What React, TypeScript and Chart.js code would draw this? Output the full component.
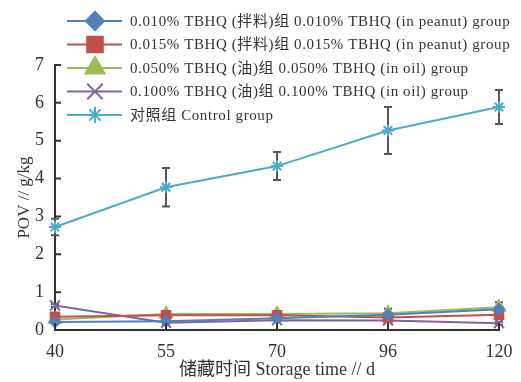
import React, { useEffect, useRef } from 'react';
import { Chart, registerables } from 'chart.js';
import { drawPoint } from 'chart.js/helpers';

Chart.register(...registerables);

const categories = ['40', '55', '70', '96', '120'];
const seriesNames = [
  '0.010% TBHQ (拌料)组 0.010% TBHQ (in peanut) group',
  '0.015% TBHQ (拌料)组 0.015% TBHQ (in peanut) group',
  '0.050% TBHQ (油)组 0.050% TBHQ (in oil) group',
  '0.100% TBHQ (油)组 0.100% TBHQ (in oil) group',
  '对照组 Control group',
];
const peanut010 = [0.21, 0.23, 0.31, 0.4, 0.55];
const peanut015 = [0.35, 0.39, 0.39, 0.33, 0.4];
const oil050 = [0.28, 0.42, 0.42, 0.44, 0.6];
const oil100 = [0.65, 0.19, 0.26, 0.25, 0.18];
const control = [2.72, 3.77, 4.33, 5.27, 5.89];

const errPeanut010 = [0.03, 0.03, 0.03, 0.05, 0.06];
const errPeanut015 = [0.04, 0.03, 0.04, 0.04, 0.06];
const errOil050 = [0.04, 0.05, 0.06, 0.12, 0.13];
const errOil100 = [0.04, 0.03, 0.03, 0.04, 0.04];
const errControl = [0.22, 0.51, 0.37, 0.62, 0.45];

const yMin = 0;
const yMax = 7;
const yStep = 1;

const colors = ['#4F81BD', '#C0504D', '#9BBB59', '#8064A2', '#4BACC6'];
const pointStyles = ['rectRot', 'rect', 'triangle', 'crossRot', 'star'];
const pointRadii = [5, 6, 7, 7, 6];
const legendRadii = [9, 11, 11, 11, 8];

const seriesValues = [peanut010, peanut015, oil050, oil100, control];
const seriesErrors = [errPeanut010, errPeanut015, errOil050, errOil100, errControl];

const serifFont = '"Liberation Serif", "DejaVu Serif", "Noto Sans CJK SC", serif';

const errorBarPlugin = {
  id: 'errorBars',
  beforeDatasetsDraw(chart: any) {
    const ctx = chart.ctx;
    const yScale = chart.scales.y;
    ctx.save();
    ctx.strokeStyle = '#555555';
    ctx.lineWidth = 2;
    seriesValues.forEach((vals, i) => {
      const meta = chart.getDatasetMeta(i);
      vals.forEach((v, j) => {
        const e = seriesErrors[i][j];
        const pt = meta.data[j];
        if (!pt) return;
        const x = pt.x;
        const yt = yScale.getPixelForValue(v + e);
        const yb = yScale.getPixelForValue(v - e);
        ctx.beginPath();
        ctx.moveTo(x, yt);
        ctx.lineTo(x, yb);
        ctx.moveTo(x - 4, yt);
        ctx.lineTo(x + 4, yt);
        ctx.moveTo(x - 4, yb);
        ctx.lineTo(x + 4, yb);
        ctx.stroke();
      });
    });
    ctx.restore();
  },
};

const innerTicksPlugin = {
  id: 'innerTicks',
  afterDraw(chart: any) {
    const ctx = chart.ctx;
    const { left, bottom } = chart.chartArea;
    const yScale = chart.scales.y;
    const xScale = chart.scales.x;
    ctx.save();
    ctx.strokeStyle = '#333333';
    ctx.lineWidth = 2;
    ctx.beginPath();
    yScale.ticks.forEach((t: any) => {
      const y = yScale.getPixelForValue(t.value);
      ctx.moveTo(left, y);
      ctx.lineTo(left + 6, y);
    });
    categories.forEach((_, i) => {
      const x = xScale.getPixelForValue(i);
      ctx.moveTo(x, bottom);
      ctx.lineTo(x, bottom - 7);
    });
    ctx.stroke();
    ctx.restore();
  },
};

const customLegendPlugin = {
  id: 'customLegend',
  afterDraw(chart: any) {
    const ctx = chart.ctx;
    ctx.save();
    const x0 = 67;
    const x1 = 122;
    const xm = 95;
    const textX = 130;
    seriesNames.forEach((name, i) => {
      const y = 21 + i * 23.5;
      ctx.strokeStyle = colors[i];
      ctx.lineWidth = 2;
      ctx.beginPath();
      ctx.moveTo(x0, y);
      ctx.lineTo(x1, y);
      ctx.stroke();
      ctx.fillStyle = colors[i];
      ctx.strokeStyle = colors[i];
      ctx.lineWidth = 2;
      drawPoint(ctx, { pointStyle: pointStyles[i], radius: legendRadii[i], rotation: 0, borderWidth: 2 } as any, xm, y);
      ctx.fillStyle = '#333333';
      ctx.font = '15px ' + serifFont;
      (ctx as any).letterSpacing = '0.6px';
      ctx.textBaseline = 'middle';
      ctx.textAlign = 'left';
      ctx.fillText(name, textX, y + 1);
      (ctx as any).letterSpacing = '0px';
    });
    ctx.restore();
  },
};

export default function App() {
  const canvasRef = useRef<HTMLCanvasElement | null>(null);

  useEffect(() => {
    document.body.style.margin = '0';
    document.body.style.background = '#ffffff';
    const canvas = canvasRef.current;
    if (!canvas) return;
    const chart = new Chart(canvas, {
      type: 'line',
      data: {
        labels: categories,
        datasets: seriesValues.map((vals, i) => ({
          label: seriesNames[i],
          data: vals,
          borderColor: colors[i],
          backgroundColor: colors[i],
          borderWidth: 2,
          pointStyle: pointStyles[i] as any,
          pointRadius: pointRadii[i],
          pointBackgroundColor: colors[i],
          pointBorderColor: colors[i],
          pointBorderWidth: 2,
          tension: 0,
          fill: false,
        })),
      },
      options: {
        responsive: false,
        maintainAspectRatio: false,
        devicePixelRatio: 1,
        animation: false,
        layout: { padding: { top: 65, right: 22, left: 0, bottom: 0 } },
        plugins: {
          legend: { display: false },
          tooltip: { enabled: false },
        },
        scales: {
          x: {
            type: 'category',
            offset: false,
            grid: { display: false },
            border: { display: true, color: '#333333', width: 2 },
            ticks: {
              color: '#333333',
              padding: 3,
              maxRotation: 0,
              autoSkip: false,
              font: { family: serifFont, size: 18 },
            },
            title: {
              display: true,
              text: '储藏时间 Storage time // d',
              color: '#333333',
              font: { family: serifFont, size: 18 },
              padding: { top: 0, bottom: 1 },
            },
            afterFit(scale: any) {
              scale.height = 52;
            },
          },
          y: {
            min: yMin,
            max: yMax,
            grid: { display: false },
            border: { display: true, color: '#333333', width: 2 },
            ticks: {
              stepSize: yStep,
              color: '#333333',
              padding: 3,
              font: { family: serifFont, size: 18 },
            },
            title: {
              display: true,
              text: 'POV // g/kg',
              color: '#333333',
              font: { family: serifFont, size: 17 },
              padding: { top: 14, bottom: 0 },
            },
            afterFit(scale: any) {
              scale.width = 55;
            },
          },
        },
      },
      plugins: [errorBarPlugin, innerTicksPlugin, customLegendPlugin],
    });
    return () => chart.destroy();
  }, []);

  return (
    <div style={{ width: 521, height: 382 }}>
      <canvas ref={canvasRef} width={521} height={382} style={{ display: 'block' }} />
    </div>
  );
}
